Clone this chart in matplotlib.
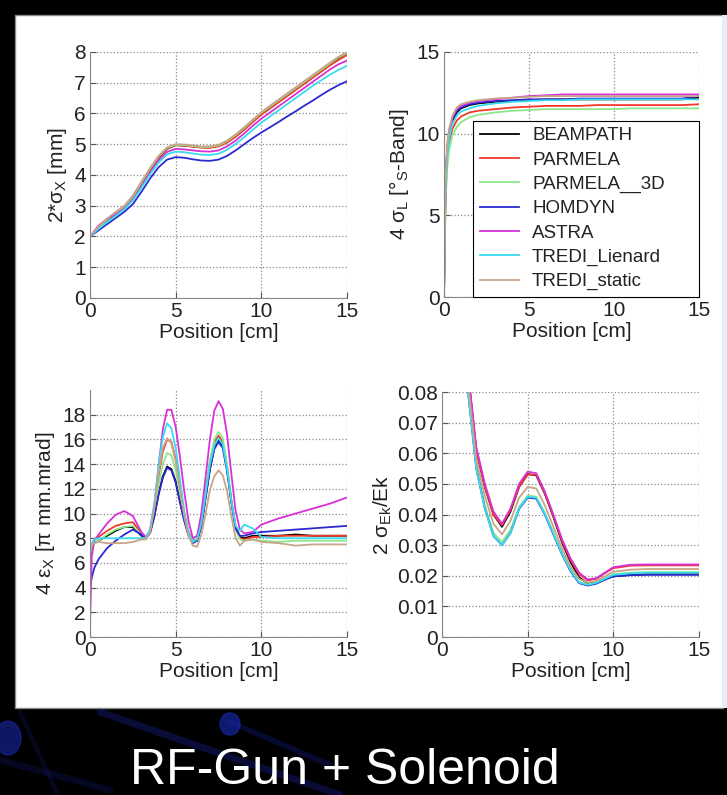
import numpy as np
import matplotlib.pyplot as plt
from matplotlib.patches import Rectangle, Ellipse

plt.rcParams['font.family'] = ['Liberation Sans', 'DejaVu Sans']
plt.rcParams['mathtext.default'] = 'regular'

codigos = ['BEAMPATH', 'PARMELA', 'PARMELA__3D', 'HOMDYN', 'ASTRA', 'TREDI_Lienard', 'TREDI_static']
colores = ['#000000', '#f03a2a', '#8ae88a', '#2a2ad0', '#d830d8', '#38dcf0', '#c8a488']

# 2*sigma_x [mm]
x1 = np.arange(0, 15.5, 0.5)
sx = [
    [2.00, 2.28, 2.52, 2.72, 2.93, 3.25, 3.70, 4.15, 4.55, 4.85, 4.97, 4.96, 4.93, 4.90, 4.90, 4.95, 5.08, 5.27, 5.50, 5.75, 6.00, 6.20, 6.40, 6.60, 6.80, 7.00, 7.20, 7.40, 7.60, 7.80, 7.97],
    [2.00, 2.30, 2.55, 2.75, 2.95, 3.27, 3.72, 4.17, 4.57, 4.86, 4.97, 4.95, 4.92, 4.89, 4.88, 4.93, 5.05, 5.24, 5.47, 5.72, 5.96, 6.16, 6.36, 6.56, 6.76, 6.96, 7.16, 7.36, 7.56, 7.74, 7.90],
    [2.00, 2.30, 2.55, 2.77, 2.97, 3.30, 3.75, 4.20, 4.60, 4.88, 4.98, 4.97, 4.94, 4.91, 4.91, 4.96, 5.10, 5.30, 5.53, 5.78, 6.02, 6.22, 6.42, 6.62, 6.82, 7.02, 7.22, 7.42, 7.62, 7.82, 7.97],
    [2.00, 2.20, 2.40, 2.60, 2.80, 3.05, 3.45, 3.88, 4.25, 4.50, 4.58, 4.56, 4.51, 4.47, 4.46, 4.50, 4.62, 4.80, 5.00, 5.20, 5.38, 5.55, 5.72, 5.90, 6.07, 6.25, 6.42, 6.60, 6.77, 6.92, 7.05],
    [2.00, 2.35, 2.58, 2.72, 2.90, 3.20, 3.62, 4.07, 4.47, 4.75, 4.85, 4.83, 4.80, 4.77, 4.76, 4.80, 4.93, 5.12, 5.35, 5.60, 5.83, 6.03, 6.23, 6.43, 6.63, 6.83, 7.03, 7.23, 7.43, 7.60, 7.72],
    [2.00, 2.25, 2.47, 2.67, 2.88, 3.17, 3.58, 4.02, 4.40, 4.67, 4.76, 4.74, 4.70, 4.66, 4.65, 4.69, 4.82, 5.01, 5.23, 5.47, 5.70, 5.90, 6.10, 6.30, 6.50, 6.70, 6.90, 7.08, 7.26, 7.42, 7.55],
    [2.00, 2.32, 2.58, 2.80, 3.00, 3.33, 3.78, 4.22, 4.62, 4.90, 5.00, 4.99, 4.96, 4.93, 4.93, 4.98, 5.12, 5.32, 5.55, 5.80, 6.04, 6.25, 6.45, 6.65, 6.85, 7.05, 7.25, 7.45, 7.65, 7.84, 8.00],
]

# 4*sigma_L [grados S-Band]
x2 = [0, 0.05, 0.1, 0.2, 0.3, 0.5, 0.75, 1, 1.5, 2, 3, 4, 5, 6, 7, 8, 9, 10, 11, 12, 13, 14, 15]
sl = [
    [0, 4.0, 7.0, 9.0, 9.9, 10.8, 11.3, 11.55, 11.75, 11.85, 11.95, 12.0, 12.05, 12.1, 12.1, 12.1, 12.1, 12.1, 12.1, 12.1, 12.1, 12.1, 12.2],
    [0, 3.5, 6.5, 8.5, 9.5, 10.3, 10.8, 11.05, 11.3, 11.4, 11.5, 11.6, 11.65, 11.7, 11.7, 11.7, 11.75, 11.75, 11.75, 11.75, 11.75, 11.75, 11.8],
    [0, 3.0, 6.0, 8.0, 9.0, 9.9, 10.4, 10.7, 11.0, 11.15, 11.3, 11.4, 11.45, 11.5, 11.5, 11.5, 11.5, 11.5, 11.55, 11.55, 11.55, 11.55, 11.55],
    [0, 4.2, 7.2, 9.2, 10.0, 10.9, 11.4, 11.6, 11.8, 11.9, 12.0, 12.05, 12.1, 12.1, 12.1, 12.15, 12.15, 12.15, 12.15, 12.15, 12.15, 12.15, 12.3],
    [0, 5.0, 7.5, 9.3, 10.1, 11.0, 11.5, 11.7, 11.9, 12.0, 12.1, 12.2, 12.3, 12.35, 12.4, 12.4, 12.4, 12.4, 12.4, 12.4, 12.4, 12.4, 12.4],
    [0, 3.8, 6.8, 8.8, 9.7, 10.6, 11.1, 11.35, 11.55, 11.7, 11.85, 11.95, 12.0, 12.05, 12.05, 12.1, 12.1, 12.1, 12.1, 12.1, 12.1, 12.1, 12.1],
    [0, 4.5, 7.5, 9.5, 10.3, 11.1, 11.6, 11.8, 11.95, 12.05, 12.15, 12.2, 12.25, 12.3, 12.3, 12.3, 12.3, 12.3, 12.3, 12.3, 12.3, 12.3, 12.3],
]

# 4*emitancia x [pi mm.mrad]
x3 = [0, 0.1, 0.25, 0.5, 1, 1.5, 2, 2.5, 3, 3.25, 3.5, 3.75, 4, 4.25, 4.5, 4.75, 5, 5.25, 5.5, 5.75,
      6, 6.25, 6.5, 6.75, 7, 7.25, 7.5, 7.75, 8, 8.25, 8.5, 8.75, 9, 9.5, 10, 11, 12, 13, 14, 15]
ex = [
    [6.5, 7.2, 7.6, 7.8, 8.2, 8.6, 8.9, 8.9, 8.2, 8.0, 8.4, 9.8, 11.6, 13.0, 13.8, 13.6, 12.6, 11.0, 9.5, 8.3,
     7.7, 7.8, 9.0, 11.3, 13.6, 15.3, 16.0, 15.5, 13.6, 11.0, 8.9, 8.1, 8.0, 8.2, 8.2, 8.2, 8.3, 8.2, 8.2, 8.2],
    [6.8, 7.5, 7.9, 8.1, 8.6, 9.0, 9.2, 9.3, 8.4, 8.0, 8.5, 10.3, 13.0, 15.0, 16.0, 15.8, 14.4, 12.2, 10.0, 8.5,
     7.8, 7.9, 9.3, 11.8, 14.2, 15.8, 16.3, 15.8, 13.8, 11.0, 8.8, 8.0, 7.9, 8.1, 8.1, 8.2, 8.2, 8.2, 8.2, 8.2],
    [6.6, 7.3, 7.6, 7.8, 8.3, 8.7, 8.9, 9.0, 8.3, 8.0, 8.4, 10.0, 12.3, 14.0, 14.9, 14.7, 13.5, 11.6, 9.7, 8.4,
     7.7, 7.8, 9.2, 11.7, 14.2, 16.0, 16.6, 16.1, 14.0, 11.2, 8.7, 7.9, 7.8, 7.9, 7.8, 7.7, 7.8, 7.8, 7.8, 7.8],
    [4.0, 4.8, 5.6, 6.3, 7.2, 7.8, 8.3, 8.7, 8.3, 8.0, 8.4, 9.7, 11.5, 12.9, 13.7, 13.5, 12.5, 10.9, 9.4, 8.2,
     7.6, 7.8, 9.0, 11.3, 13.6, 15.2, 15.8, 15.3, 13.4, 10.9, 8.8, 8.2, 8.2, 8.4, 8.5, 8.6, 8.7, 8.8, 8.9, 9.0],
    [1.0, 6.5, 7.8, 8.3, 9.2, 9.9, 10.2, 9.8, 8.5, 8.1, 8.6, 10.6, 13.8, 16.8, 18.4, 18.4, 17.0, 14.6, 11.8, 9.4,
     8.0, 8.2, 10.0, 13.0, 16.0, 18.3, 19.1, 18.5, 16.4, 13.2, 10.2, 8.7, 8.4, 8.5, 9.1, 9.6, 10.0, 10.4, 10.8, 11.3],
    [6.8, 7.5, 7.9, 8.0, 8.0, 8.0, 8.0, 8.0, 8.0, 8.0, 8.7, 10.8, 13.8, 16.2, 17.3, 16.9, 15.3, 12.8, 10.2, 8.5,
     7.7, 7.9, 9.2, 11.6, 14.0, 15.5, 16.1, 15.6, 13.6, 11.0, 9.0, 8.6, 9.1, 8.8, 8.1, 8.0, 8.0, 8.0, 8.0, 8.0],
    [7.0, 7.4, 7.6, 7.7, 7.6, 7.6, 7.6, 7.7, 7.9, 7.9, 8.4, 10.4, 13.2, 15.3, 16.1, 15.7, 14.2, 12.0, 9.8, 8.2,
     7.4, 7.3, 8.3, 10.0, 11.9, 13.0, 13.5, 13.1, 11.8, 9.8, 8.0, 7.4, 7.8, 7.9, 7.7, 7.6, 7.4, 7.5, 7.5, 7.5],
]

# 2*sigma_Ek/Ek
x4 = [1, 1.5, 2, 2.5, 3, 3.5, 4, 4.5, 5, 5.5, 6, 6.5, 7, 7.5, 8, 8.5, 9, 9.5, 10, 11, 12, 13, 14, 15]
ek = [
    [0.124, 0.087, 0.061, 0.049, 0.040, 0.036, 0.041, 0.049, 0.0532, 0.0528, 0.0468, 0.0392, 0.031, 0.0245, 0.0195, 0.0175, 0.0178, 0.019, 0.0198, 0.0203, 0.0205, 0.0205, 0.0205, 0.0205],
    [0.124, 0.087, 0.061, 0.049, 0.040, 0.0365, 0.0415, 0.049, 0.053, 0.053, 0.047, 0.0395, 0.0315, 0.0252, 0.0205, 0.0185, 0.019, 0.0208, 0.0225, 0.0233, 0.0234, 0.0234, 0.0234, 0.0234],
    [0.118, 0.082, 0.056, 0.043, 0.034, 0.031, 0.035, 0.0425, 0.0462, 0.0458, 0.0405, 0.034, 0.0275, 0.022, 0.018, 0.0172, 0.0178, 0.0192, 0.0205, 0.021, 0.0212, 0.0212, 0.0212, 0.0212],
    [0.117, 0.081, 0.055, 0.042, 0.033, 0.030, 0.034, 0.0418, 0.0455, 0.0452, 0.040, 0.0335, 0.027, 0.0215, 0.0176, 0.0168, 0.0174, 0.0187, 0.0198, 0.0202, 0.0203, 0.0203, 0.0203, 0.0203],
    [0.125, 0.088, 0.062, 0.050, 0.041, 0.037, 0.042, 0.050, 0.054, 0.0535, 0.0475, 0.040, 0.032, 0.0257, 0.021, 0.0188, 0.0192, 0.021, 0.0228, 0.0236, 0.0237, 0.0237, 0.0237, 0.0237],
    [0.117, 0.081, 0.055, 0.042, 0.033, 0.030, 0.034, 0.042, 0.0458, 0.0455, 0.0402, 0.0338, 0.0272, 0.0218, 0.0178, 0.017, 0.0177, 0.019, 0.0203, 0.0208, 0.021, 0.021, 0.021, 0.021],
    [0.120, 0.084, 0.058, 0.046, 0.037, 0.0335, 0.038, 0.0455, 0.049, 0.0485, 0.043, 0.036, 0.029, 0.023, 0.019, 0.0178, 0.0183, 0.0198, 0.0213, 0.022, 0.0222, 0.0222, 0.0222, 0.0222],
]

fig = plt.figure(figsize=(7.27, 7.95), dpi=100, facecolor='black')

# fondo de la diapositiva (pixeles)
fondo = fig.add_axes([0, 0, 1, 1], zorder=-5)
fondo.set_xlim(0, 727)
fondo.set_ylim(795, 0)
fondo.axis('off')
fondo.add_patch(Rectangle((0, 0), 727, 795, color='black'))
for (xa, ya, xb, yb, w, a) in [(100, 712, 340, 795, 5, 0.35), (230, 722, 330, 765, 4, 0.3),
                                (0, 760, 110, 790, 5, 0.2), (20, 712, 60, 800, 3, 0.2)]:
    fondo.plot([xa, xb], [ya, yb], color='#1a24a0', lw=w, alpha=a, solid_capstyle='round')
fondo.add_patch(Ellipse((8, 738), 26, 34, color='#1a2ab8', alpha=0.55))
fondo.add_patch(Ellipse((230, 724), 20, 22, color='#1a2ab8', alpha=0.6))
fondo.add_patch(Rectangle((15, 15), 708, 693, facecolor='white', edgecolor='#888888', lw=1))
fondo.add_patch(Rectangle((722, 15), 5, 693, facecolor='#e4eef8', edgecolor='none'))

fig.text(0.474, 0.001, 'RF-Gun + Solenoid', color='white', fontsize=36,
         ha='center', va='bottom')


def estilo(ax, ylim, yticks):
    ax.set_xlim(0, 15)
    ax.set_ylim(*ylim)
    ax.set_xticks([0, 5, 10, 15])
    ax.set_yticks(yticks)
    ax.grid(True, linestyle=':', color='#8a8a8a', lw=0.9)
    ax.tick_params(direction='in', length=4, labelsize=15, colors='#555555',
                   labelcolor='#222222', pad=3)
    for s in ['top', 'right']:
        ax.spines[s].set_visible(False)
    for s in ['left', 'bottom']:
        ax.spines[s].set_color('#888888')
    ax.set_xlabel('Position [cm]', fontsize=15, color='#222222', labelpad=1)


ax1 = fig.add_axes([0.1238, 0.6252, 0.3535, 0.3094])
ax2 = fig.add_axes([0.6107, 0.6264, 0.3508, 0.3082])
ax3 = fig.add_axes([0.1238, 0.1987, 0.3535, 0.3107])
ax4 = fig.add_axes([0.6080, 0.1987, 0.3535, 0.3082])

for i in range(7):
    ax1.plot(x1, sx[i], color=colores[i], lw=1.3)
    ax2.plot(x2, sl[i], color=colores[i], lw=1.3, label=codigos[i])
    ax3.plot(x3, ex[i], color=colores[i], lw=1.3)
    ax4.plot(x4, ek[i], color=colores[i], lw=1.3)

estilo(ax1, (0, 8), range(0, 9))
estilo(ax2, (0, 15), [0, 5, 10, 15])
estilo(ax3, (0, 20), range(0, 19, 2))
estilo(ax4, (0, 0.08), [0, 0.01, 0.02, 0.03, 0.04, 0.05, 0.06, 0.07, 0.08])
ax4.set_yticklabels(['0', '0.01', '0.02', '0.03', '0.04', '0.05', '0.06', '0.07', '0.08'])

ax1.set_ylabel('2*σ$_X$ [mm]', fontsize=15, color='#222222')
ax2.set_ylabel('4 σ$_L$ [°$_S$-Band]', fontsize=15, color='#222222')
ax3.set_ylabel('4 ε$_X$ [π mm.mrad]', fontsize=15, color='#222222')
ax4.set_ylabel('2 σ$_{Ek}$/Ek', fontsize=15, color='#222222', labelpad=2)

leg = ax2.legend(loc='lower left', bbox_to_anchor=(0.114, 0, 0.886, 0.70), mode='expand',
                 borderaxespad=0, fontsize=13.5, fancybox=False, framealpha=1,
                 edgecolor='black', handlelength=2.1, handletextpad=0.7,
                 labelspacing=0.38, borderpad=0.35)
leg.get_frame().set_linewidth(0.8)
for t in leg.get_texts():
    t.set_color('#222222')

fig.savefig('out.png', dpi=100, facecolor='black')
